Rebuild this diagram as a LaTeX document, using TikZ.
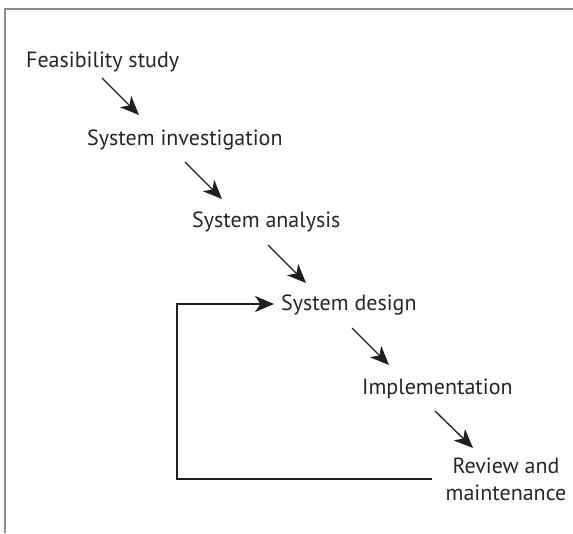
\documentclass[tikz,border=0pt]{standalone}
\usepackage{fontspec}
\setmainfont{PT Sans}
\usetikzlibrary{arrows.meta}
\begin{document}
\begin{tikzpicture}[x=1pt,y=-1pt,
  lbl/.style={font=\fontsize{22}{27}\selectfont, text=black!85, inner sep=0pt, anchor=base west},
  arr/.style={draw=black!88, line width=1.3pt, -{Stealth[length=19pt,width=16pt,inset=5.5pt]}},
  frame/.style={draw=black!45, line width=2pt}]
\useasboundingbox (0,0) rectangle (573,533);
\draw[frame] (573,9) -- (5,9) -- (5,533);
\node[lbl] (feas) at (26,67) {Feasibility study};
\node[lbl] (inv) at (87,145) {System investigation};
\node[lbl] (ana) at (192,227) {System analysis};
\node[lbl] (des) at (281,310) {System design};
\node[lbl] (impl) at (362,394) {Implementation};
\node[lbl, anchor=base, align=center] (rev) at (506,500) {Review and\\maintenance};
\coordinate (a1s) at (102,78);  \coordinate (a1e) at (139,115);
\coordinate (a2s) at (185,162); \coordinate (a2e) at (222,199);
\coordinate (a3s) at (268,245); \coordinate (a3e) at (306,283);
\coordinate (a4s) at (352,328); \coordinate (a4e) at (389,365);
\coordinate (a5s) at (435,411); \coordinate (a5e) at (473,448);
\coordinate (fbs) at (432,479);
\coordinate (fbc1) at (177,479);
\coordinate (fbc2) at (177,304);
\coordinate (fbe) at (274,304);
\draw[arr] (a1s) -- (a1e);
\draw[arr] (a2s) -- (a2e);
\draw[arr] (a3s) -- (a3e);
\draw[arr] (a4s) -- (a4e);
\draw[arr] (a5s) -- (a5e);
\draw[arr] (fbs) -- (fbc1) -- (fbc2) -- (fbe);
\end{tikzpicture}
\end{document}
